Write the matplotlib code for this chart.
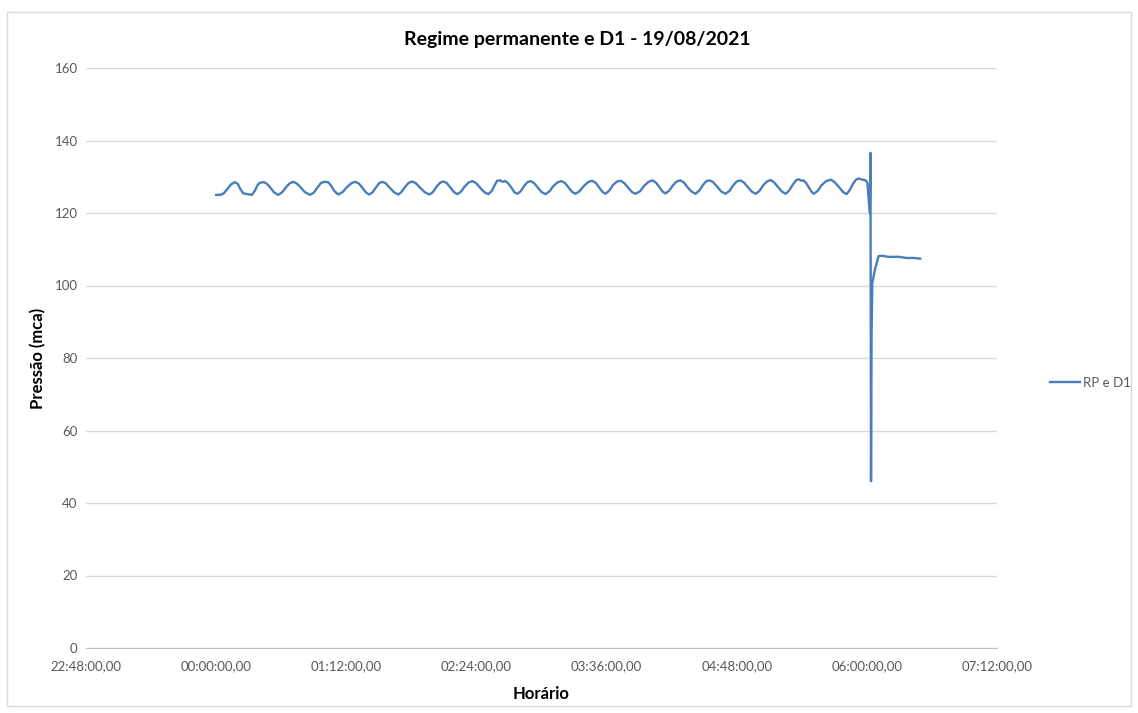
import matplotlib
matplotlib.use("Agg")
import matplotlib.pyplot as plt
from matplotlib.patches import Rectangle
from matplotlib.ticker import FuncFormatter, MultipleLocator

plt.rcParams['font.family'] = ['Lato', 'DejaVu Sans']

# tempo em minutos a partir de 00:00 e pressão medida (mca)
tempo_min = [
    0, 2, 4, 6.5, 8.5, 10.5, 12, 13.5, 15, 17.5, 19.8,
    21.5, 23, 24.5, 26.5, 28, 30, 32, 34.3,
    36.5, 38.5, 40.5, 42.6, 44.5, 46.5, 49, 52,
    54, 56, 58, 60, 62, 63.5, 65.5, 67.6,
    70, 72.5, 75, 77, 79, 81, 83, 84.7,
    86.5, 88.5, 90.3, 91.9, 93.8, 96, 98.5, 100.8,
    102.5, 104.5, 106.5, 108.5, 110.5, 113, 115.5, 118,
    120, 122, 124, 125.7, 127.5, 129.5, 131.5, 133.4,
    135.5, 137.5, 139.7, 141.7, 143.7, 146, 148.5, 150.6,
    152.5, 154, 155.5, 157, 158.5, 160, 161.5, 163.5, 165, 166.7,
    168.5, 170.3, 172.2, 173.9, 175.8, 178, 180, 182.2,
    184.5, 186.5, 189, 191, 193, 195, 197, 198.8,
    201, 203.5, 206, 208.2, 210, 212, 213.8, 215.4,
    217.5, 219.5, 221.8, 223.7, 225.7, 227.8, 230, 232,
    234.5, 236.8, 239.2, 241.4, 243.3, 245.3, 247, 248.6,
    250.7, 252.8, 254.8, 256.9, 258.8, 260.8, 263, 265.2,
    267.3, 269.3, 271.2, 273, 275, 277.3, 279.5, 281.8,
    284, 286, 288, 290.1, 292, 294.2, 296.3, 298.5,
    300.6, 302.6, 304.7, 306.8, 308.8, 311, 313, 315.1,
    317, 319, 321, 322.5, 323.7, 325, 326.5, 328.2, 329.5, 330.6,
    332.8, 335, 337.5, 340, 342, 344.5, 346.8, 348.8,
    350.5, 352.3, 354, 355.5, 357.5, 359.4, 360.3,
    361, 361.6, 362.0, 362.3, 362.6, 363, 364.5, 366.5,
    368.5, 372, 378, 382, 386, 389.5,
]
pressao = [
    125.0, 125.0, 125.3, 126.8, 128.0, 128.5, 128.0, 126.5, 125.4, 125.2, 125.0,
    126.2, 127.8, 128.4, 128.5, 128.1, 127.0, 125.7, 125.0,
    125.7, 127.0, 128.1, 128.6, 128.2, 127.2, 125.8, 125.0,
    125.6, 127.0, 128.3, 128.6, 128.5, 127.6, 126.0, 125.1,
    125.8, 127.2, 128.3, 128.6, 128.1, 126.9, 125.6, 125.1,
    125.7, 127.1, 128.3, 128.6, 128.2, 127.0, 125.7, 125.1,
    125.8, 127.2, 128.3, 128.7, 128.2, 126.9, 125.7, 125.1,
    125.8, 127.3, 128.4, 128.7, 128.3, 127.1, 125.8, 125.2,
    125.9, 127.3, 128.4, 128.8, 128.3, 127.0, 125.7, 125.2,
    126.1, 127.6, 128.9, 129.0, 128.6, 128.8, 128.2, 126.9, 125.7, 125.3,
    126.0, 127.4, 128.5, 128.8, 128.3, 127.0, 125.8, 125.2,
    126.0, 127.4, 128.5, 128.8, 128.3, 127.0, 125.8, 125.3,
    126.0, 127.5, 128.6, 128.9, 128.3, 127.0, 125.8, 125.3,
    126.2, 127.7, 128.7, 128.9, 128.3, 127.1, 125.8, 125.3,
    126.0, 127.5, 128.6, 129.0, 128.4, 127.1, 125.9, 125.4,
    126.2, 127.7, 128.7, 129.0, 128.4, 127.1, 125.9, 125.3,
    126.2, 127.7, 128.8, 129.0, 128.5, 127.2, 125.9, 125.3,
    126.1, 127.6, 128.7, 129.0, 128.4, 127.1, 125.9, 125.3,
    126.1, 127.6, 128.7, 129.1, 128.4, 127.1, 125.9, 125.3,
    126.2, 127.8, 129.1, 129.3, 128.9, 129.0, 128.2, 126.8, 125.8, 125.3,
    126.1, 127.7, 128.8, 129.2, 128.6, 127.2, 125.8, 125.2,
    126.3, 128.0, 129.2, 129.5, 129.2, 129.0, 128.3,
    124.0, 120.0, 136.6, 46.0, 85.5, 100.7, 104.5, 108.1,
    108.2, 107.9, 107.9, 107.6, 107.6, 107.4,
]

y_ticks = [0, 20, 40, 60, 80, 100, 120, 140, 160]
cinza_texto = '#595959'
azul = '#4a7ebb'


def formata_hora(m, pos):
    m = int(round(m)) % (24 * 60)
    return f'{m // 60:02d}:{m % 60:02d}:00,00'


fig = plt.figure(figsize=(11.38, 7.13), dpi=100)
ax = fig.add_axes([86 / 1138, 1 - 648 / 713, (997 - 86) / 1138, (648 - 68) / 713])

linha, = ax.plot(tempo_min, pressao, color=azul, lw=1.7, label='RP e D1')

ax.set_xlim(-72, 432)
ax.set_ylim(0, 160)
ax.xaxis.set_major_locator(MultipleLocator(72))
ax.xaxis.set_major_formatter(FuncFormatter(formata_hora))
ax.set_yticks(y_ticks)

ax.grid(axis='y', color='#d9d9d9', lw=1)
ax.set_axisbelow(True)
for lado in ['top', 'right', 'left']:
    ax.spines[lado].set_visible(False)
ax.spines['bottom'].set_color('#bfbfbf')
ax.tick_params(length=0, labelsize=9.5, labelcolor=cinza_texto)
ax.tick_params(axis='x', pad=9)
ax.tick_params(axis='y', pad=6)

fig.text(577 / 1138, 1 - 40 / 713, 'Regime permanente e D1 - 19/08/2021',
         fontsize=14, fontweight='bold', ha='center', va='center')
ax.set_xlabel('Horário', fontsize=12, fontweight='bold', labelpad=10)
ax.set_ylabel('Pressão (mca)', fontsize=12, fontweight='bold', labelpad=6)

fig.legend(handles=[linha], loc='center left', bbox_to_anchor=(1038 / 1138, 1 - 383 / 713),
           frameon=False, fontsize=9.5, labelcolor=cinza_texto, handlelength=2.3,
           handletextpad=0.2)

# moldura da área do gráfico
fig.patches.append(Rectangle((7 / 1138, 1 - 706 / 713), 1124 / 1138, 694 / 713,
                             transform=fig.transFigure, fill=False,
                             edgecolor='#d9d9d9', lw=1))

fig.savefig('out.png', dpi=100)
